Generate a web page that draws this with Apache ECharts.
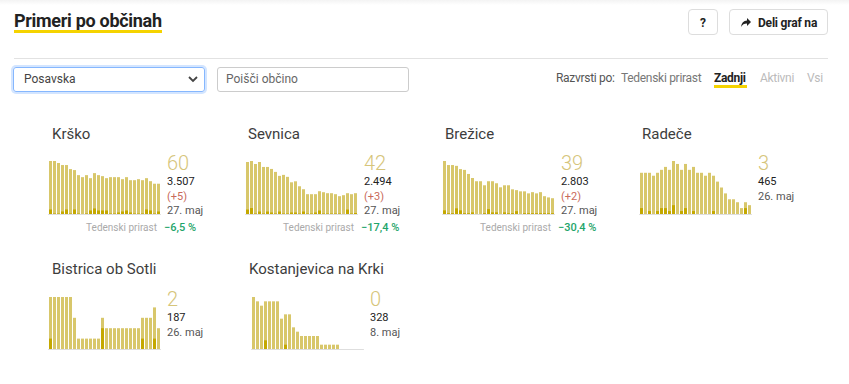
<!DOCTYPE html>
<html>
<head>
<meta charset="utf-8">
<script src="https://cdn.jsdelivr.net/npm/echarts@6/dist/echarts.min.js"></script>
<style>
  html, body { margin:0; padding:0; background:#fff; width:849px; height:384px; overflow:hidden; font-family: Roboto, "Noto Sans", sans-serif; }
  #topshade { position:absolute; left:0; top:0; width:849px; height:5px; background:linear-gradient(#f3f3f3,#fff); }
  #chart { position:absolute; left:0; top:0; width:849px; height:384px; }
  .abs { position:absolute; z-index:2; }
  #title { left:14px; top:10px; font-size:18px; font-weight:700; color:#222; letter-spacing:-0.3px; line-height:22px; }
  #titleline { left:14px; top:30px; width:148px; height:3px; background:#f5d300; }
  .btn { border:1px solid #ddd; border-radius:4px; background:#fff; height:26px; top:9px; font-size:12px; font-weight:700; color:#222; line-height:26px; box-sizing:border-box; }
  #qbtn { left:688px; width:30px; text-align:center; }
  #share { left:729px; width:99px; padding-left:28px; letter-spacing:-0.2px; }
  #share svg { position:absolute; left:11px; top:8px; }
  #hr { left:14px; top:58px; width:814px; height:1px; background:#e2e2e2; }
  #sel { left:13px; top:67px; width:192px; height:25px; border:1px solid #86b7fe; border-radius:3px; box-shadow:0 0 0 2px rgba(13,110,253,0.18); box-sizing:border-box; font-size:12px; color:#444; padding-left:10px; line-height:23px; }
  #sel svg { position:absolute; right:6px; top:8px; }
  #inp { left:217px; top:67px; width:192px; height:25px; border:1px solid #ccc; border-radius:3px; box-sizing:border-box; font-size:12px; color:#666; padding-left:8px; line-height:23px; }
  .sort { top:71px; font-size:12px; line-height:14px; letter-spacing:-0.3px; }
  #s0 { left:556px; color:#555; }
  #s1 { left:621px; color:#777; }
  #s2 { left:714px; color:#222; font-weight:700; }
  #s2line { left:714px; top:85px; width:33px; height:3px; background:#f5d300; }
  #s3 { left:760px; color:#bbb; }
  #s4 { left:807px; color:#bbb; }
</style>
</head>
<body>
<div id="topshade"></div>
<div id="chart"></div>
<div class="abs" id="title">Primeri po občinah</div>
<div class="abs" id="titleline"></div>
<div class="abs btn" id="qbtn">?</div>
<div class="abs btn" id="share"><svg width="10" height="9" viewBox="0 0 10 9"><path d="M6 0 L10 4 L6 8 L6 5.5 C3 5.5 1.5 6.5 0 9 C0.5 5 2.5 2.8 6 2.6 Z" fill="#222"/></svg>Deli graf na</div>
<div class="abs" id="hr"></div>
<div class="abs" id="sel">Posavska<svg width="10" height="7" viewBox="0 0 10 7"><path d="M1 1 L5 5 L9 1" stroke="#444" stroke-width="1.8" fill="none"/></svg></div>
<div class="abs" id="inp">Poišči občino</div>
<div class="abs sort" id="s0">Razvrsti po:</div>
<div class="abs sort" id="s1">Tedenski prirast</div>
<div class="abs sort" id="s2">Zadnji</div>
<div class="abs" id="s2line"></div>
<div class="abs sort" id="s3">Aktivni</div>
<div class="abs sort" id="s4">Vsi</div>
<script>
// ---- data ----
const days = ["30. apr","1. maj","2. maj","3. maj","4. maj","5. maj","6. maj","7. maj","8. maj","9. maj","10. maj","11. maj","12. maj","13. maj","14. maj","15. maj","16. maj","17. maj","18. maj","19. maj","20. maj","21. maj","22. maj","23. maj","24. maj","25. maj","26. maj","27. maj"];

const names = ["Krško","Sevnica","Brežice","Radeče","Bistrica ob Sotli","Kostanjevica na Krki"];
const latest = ["60","42","39","3","2","0"];
const totals = ["3.507","2.494","2.803","465","187","328"];
const deltas = ["(+5)","(+3)","(+2)","","",""];
const lastDates = ["27. maj","27. maj","27. maj","26. maj","26. maj","8. maj"];
const weeklyLabel = "Tedenski prirast";
const weekly = ["−6,5 %","−17,4 %","−30,4 %","","",""];

const krskoActive = [105,105,101,97,97,89,87,77,73,77,71,81,77,75,71,73,73,73,69,73,67,67,69,67,71,65,60,60];
const krskoNew    = [9,1,1,5,9,1,9,1,0,1,7,11,7,7,7,1,1,3,5,7,3,1,1,1,9,7,1,5];
const sevnicaActive = [105,107,101,105,95,95,91,85,77,79,75,64,66,56,50,40,40,40,46,44,42,42,40,36,38,42,40,42];
const sevnicaNew    = [9,12,1,5,1,5,3,1,5,1,1,3,3,1,5,1,1,3,7,1,1,1,1,1,0,9,1,2];
const breziceActive = [131,121,121,119,111,109,99,89,81,81,71,81,81,76,66,71,71,61,59,56,56,51,54,51,54,44,41,39];
const breziceNew    = [9,2,2,14,9,2,2,4,0,0,2,12,4,4,0,4,2,2,7,0,2,2,2,2,2,2,2,2];
const radeceActive = [14,14,14,13,14,15,16,15,18,17,15,17,15,16,14,14,13,14,13,11,9,7,5,5,4,2,4,3];
const radeceNew    = [2,0,1,0,1,2,2,1,3,0,1,2,0,1,0,0,0,0,1,0,0,0,0,0,0,0,2,0];
const bistricaActive = [5,5,5,5,5,5,3,1,1,1,1,1,1,3,2,2,2,2,2,2,2,2,2,3,3,3,4,2];
const bistricaNew    = [1,0,0,0,0,0,0,0,0,0,0,0,0,2,0,0,0,0,0,0,0,0,0,1,0,0,1,0];
const kostActive = [12,11,10,11,11,11,11,7,8,8,5,4,3,3,3,3,3,1,1,1,1,1,null,null,null,null,null,null];
const kostNew    = [0,0,0,2,0,0,0,0,1,0,0,0,0,0,0,0,0,0,0,0,0,0,null,null,null,null,null,null];

const actives = [krskoActive, sevnicaActive, breziceActive, radeceActive, bistricaActive, kostActive];
const news = [krskoNew, sevnicaNew, breziceNew, radeceNew, bistricaNew, kostNew];

// ---- layout ----
const lefts = [48.5, 245.5, 442.5, 639.5, 48.5, 251.5];
const tops = [161, 161, 161, 161, 297, 297];
const heights = [53, 53, 53, 53, 52, 52];
const titleX = [52, 248, 445, 642, 52, 249];
const titleY = [135, 135, 135, 135, 270, 270];
const W = 112;

const LIGHT = '#d8c76b', DARK = '#c4a800';
const FONT = 'Roboto, "Noto Sans", sans-serif';

const grids = [], xAxes = [], yAxes = [], series = [], graphics = [];
for (let i = 0; i < names.length; i++) {
  grids.push({ left: lefts[i], top: tops[i], width: W, height: heights[i] });
  xAxes.push({ type: 'category', gridIndex: i, data: days, axisTick: { show: false }, axisLabel: { show: false },
    axisLine: { show: true, lineStyle: { color: '#dedede', width: 1 } } });
  yAxes.push({ type: 'value', gridIndex: i, min: 0, max: 'dataMax', show: false, splitLine: { show: false } });
  series.push({ type: 'bar', xAxisIndex: i, yAxisIndex: i, data: actives[i], itemStyle: { color: LIGHT },
    barWidth: 3, barGap: '-100%', silent: true, animation: false });
  series.push({ type: 'bar', xAxisIndex: i, yAxisIndex: i, data: news[i], itemStyle: { color: DARK },
    barWidth: 3, barGap: '-100%', silent: true, animation: false });

  const sx = Math.round(lefts[i]) + 118, ty = tops[i];
  graphics.push({ type: 'text', left: titleX[i], top: titleY[i] - 9,
    style: { text: names[i], font: '400 15px ' + FONT, fill: '#3d3d3d' } });
  graphics.push({ type: 'text', x: sx, y: ty + 2, style: { text: latest[i], font: '300 20px ' + FONT, fill: '#d6c57a', textVerticalAlign: 'middle' } });
  graphics.push({ type: 'text', x: sx, y: ty + 20, style: { text: totals[i], font: '400 11px ' + FONT, fill: '#222', textVerticalAlign: 'middle' } });
  let dy = ty + 35;
  if (deltas[i]) {
    graphics.push({ type: 'text', x: sx, y: ty + 35, style: { text: deltas[i], font: '400 11px ' + FONT, fill: '#c96a5a', textVerticalAlign: 'middle' } });
    dy = ty + 49;
  }
  graphics.push({ type: 'text', x: sx, y: dy, style: { text: lastDates[i], font: '400 11px ' + FONT, fill: '#555', textVerticalAlign: 'middle' } });
  if (weekly[i]) {
    graphics.push({ type: 'text', x: sx - 10, y: ty + 66, style: { text: weeklyLabel, font: '400 10px ' + FONT, fill: '#aaa', textAlign: 'right', textVerticalAlign: 'middle' } });
    graphics.push({ type: 'text', x: sx - 3, y: ty + 66, style: { text: weekly[i], font: '500 11px ' + FONT, fill: '#1fa56b', textVerticalAlign: 'middle' } });
  }
}

const chart = echarts.init(document.getElementById('chart'), null, { renderer: 'svg' });
chart.setOption({
  animation: false,
  grid: grids, xAxis: xAxes, yAxis: yAxes, series: series, graphic: graphics
});
</script>
</body>
</html>
